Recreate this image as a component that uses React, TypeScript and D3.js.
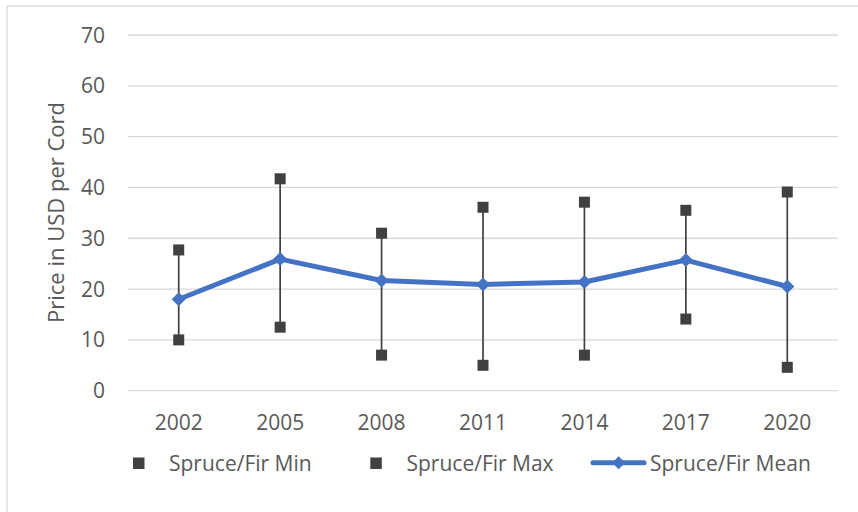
import React from "react";
import * as d3 from "d3";

const years = ["2002", "2005", "2008", "2011", "2014", "2017", "2020"];
const minValues = [10.0, 12.5, 7.0, 5.0, 7.0, 14.1, 4.6];
const maxValues = [27.7, 41.7, 31.0, 36.1, 37.1, 35.5, 39.1];
const meanValues = [18.0, 25.9, 21.7, 20.9, 21.4, 25.7, 20.5];
const yTicks = [0, 10, 20, 30, 40, 50, 60, 70];
const legendLabels = ["Spruce/Fir Min", "Spruce/Fir Max", "Spruce/Fir Mean"];

const W = 858;
const H = 512;
const FONT = "'Open Sans', sans-serif";
const TXT = "#595959";

export default function App() {
  const x = d3.scaleBand().domain(years).range([128, 838]);
  const y = d3.scaleLinear().domain([0, 70]).range([390.7, 35]);
  const cx = (yr: string) => (x(yr) as number) + x.bandwidth() / 2;
  const line = d3
    .line<number>()
    .x((_, i) => cx(years[i]))
    .y((d) => y(d));
  const sq = 11;
  const dm = 7;
  const diamond = (px: number, py: number, r: number = dm) =>
    `M${px},${py - r}L${px + r},${py}L${px},${py + r}L${px - r},${py}Z`;

  return (
    <svg
      width={W}
      height={H}
      style={{ position: "absolute", left: 0, top: 0 }}
    >
      <rect x={0} y={0} width={W} height={H} fill="#fff" />
      <rect
        x={7}
        y={6}
        width={W + 20}
        height={H + 20}
        fill="#fff"
        stroke="#d9d9d9"
        strokeWidth={1.3}
      />
      {yTicks.map((t) => (
        <g key={t}>
          <line
            x1={128}
            x2={838}
            y1={y(t)}
            y2={y(t)}
            stroke="#d9d9d9"
            strokeWidth={1.3}
          />
          <text
            x={105}
            y={y(t)}
            dy="0.36em"
            textAnchor="end"
            fontFamily={FONT}
            fontSize={21}
            fill={TXT}
          >
            {t}
          </text>
        </g>
      ))}
      {years.map((yr) => (
        <text
          key={yr}
          x={cx(yr)}
          y={430}
          textAnchor="middle"
          fontFamily={FONT}
          fontSize={21}
          fill={TXT}
        >
          {yr}
        </text>
      ))}
      <text
        transform={`translate(64,212.5) rotate(-90)`}
        textAnchor="middle"
        fontFamily={FONT}
        fontSize={22}
        fill={TXT}
      >
        Price in USD per Cord
      </text>
      {years.map((yr, i) => (
        <line
          key={"e" + yr}
          x1={cx(yr)}
          x2={cx(yr)}
          y1={y(minValues[i])}
          y2={y(maxValues[i])}
          stroke="#404040"
          strokeWidth={1.7}
        />
      ))}
      <path
        d={line(meanValues) || ""}
        fill="none"
        stroke="#4472C4"
        strokeWidth={5}
        strokeLinejoin="round"
      />
      {years.map((yr, i) => (
        <path
          key={"d" + yr}
          d={diamond(cx(yr), y(meanValues[i]))}
          fill="#4472C4"
        />
      ))}
      {years.map((yr, i) => (
        <g key={"s" + yr}>
          <rect
            x={cx(yr) - sq / 2}
            y={y(minValues[i]) - sq / 2}
            width={sq}
            height={sq}
            fill="#404040"
          />
          <rect
            x={cx(yr) - sq / 2}
            y={y(maxValues[i]) - sq / 2}
            width={sq}
            height={sq}
            fill="#404040"
          />
        </g>
      ))}
      {/* legend */}
      <rect x={133} y={457.5} width={11.5} height={11.5} fill="#404040" />
      <text x={169} y={470.5} fontFamily={FONT} fontSize={21} fill={TXT}>
        {legendLabels[0]}
      </text>
      <rect x={370.3} y={457.5} width={11.5} height={11.5} fill="#404040" />
      <text x={406.5} y={470.5} fontFamily={FONT} fontSize={21} fill={TXT}>
        {legendLabels[1]}
      </text>
      <line
        x1={593}
        x2={644}
        y1={462.7}
        y2={462.7}
        stroke="#4472C4"
        strokeWidth={5}
        strokeLinecap="round"
      />
      <path d={diamond(618.7, 462.7, 6.5)} fill="#4472C4" />
      <text x={650} y={470.5} fontFamily={FONT} fontSize={21} fill={TXT}>
        {legendLabels[2]}
      </text>
    </svg>
  );
}
